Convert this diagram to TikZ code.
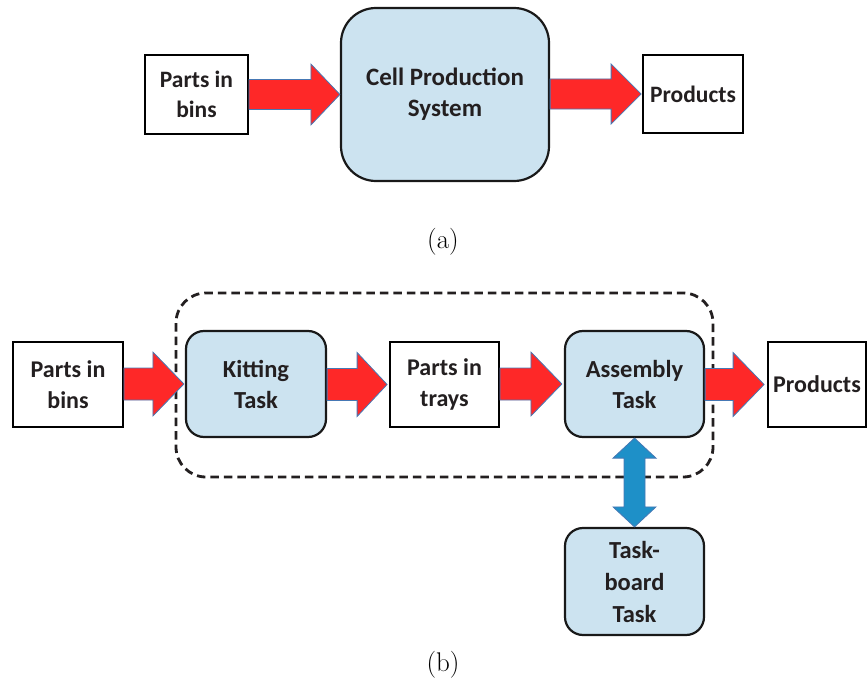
\documentclass[tikz,border=0pt]{standalone}
\usepackage{fontspec}
\newfontfamily\carl{Carlito}
\usetikzlibrary{calc}
\definecolor{arrred}{RGB}{254,40,40}
\definecolor{arredge}{RGB}{70,120,180}
\definecolor{boxblue}{RGB}{204,227,240}
\definecolor{arrblue}{RGB}{30,144,200}
\definecolor{txt}{RGB}{35,31,32}
\tikzset{
  plainbox/.style={draw=black, line width=1.8pt, fill=white, inner sep=0pt, align=center, text=txt,
    font=\carl\bfseries\fontsize{23.5}{30}\selectfont},
  taskbox/.style={draw=black!90, line width=2.2pt, fill=boxblue, inner sep=0pt, align=center, text=txt,
    font=\carl\bfseries\fontsize{24.5}{31}\selectfont},
  redarr/.style={fill=arrred, draw=arredge, line width=0.8pt, line join=miter},
  bluearr/.style={fill=arrblue, draw=arredge, line width=0.8pt},
  capt/.style={font=\fontsize{27}{30}\selectfont}
}
% #1 start, #2 tip, #3 head length, #4 half shaft, #5 half head
\newcommand\fatarrow[5]{%
  \path[redarr] let \p1=#1, \p2=#2 in
    (\x1,\y2-#4) -- (\x2-#3,\y2-#4) -- (\x2-#3,\y2-#5) -- (\x2,\y2)
    -- (\x2-#3,\y2+#5) -- (\x2-#3,\y2+#4) -- (\x1,\y2+#4) -- cycle;}
\begin{document}
\begin{tikzpicture}[x=1pt,y=-1pt]
\useasboundingbox (0,0) rectangle (868,685);
% (a)
\node[plainbox, minimum width=103pt, minimum height=79pt] (pa) at (196.5,94.5) {Parts in\\bins};
\node[taskbox, rounded corners=35pt, minimum width=208pt, minimum height=173pt,
  font=\carl\bfseries\fontsize{25}{31}\selectfont] (cell) at (445,94.5) {Cell Production\\System};
\node[plainbox, minimum width=100pt, minimum height=78pt] (pr) at (693,94) {Products};
\fatarrow{(pa.east)}{(cell.west)}{29pt}{15pt}{30.5pt}
\fatarrow{(cell.east)}{($(pr.west)+(-1,0)$)}{30pt}{15pt}{30pt}
\node[capt] (capa) at (443,242) {(a)};
% (b)
\draw[dash pattern=on 8.5pt off 5pt, line width=2.8pt, draw=txt, rounded corners=30pt]
  (176,293) rectangle (713,477);
\node[plainbox, minimum width=110pt, minimum height=85pt, font=\carl\bfseries\fontsize{24}{31}\selectfont] (pb) at (68,384.5) {Parts in\\bins};
\node[taskbox, rounded corners=18pt, minimum width=140pt, minimum height=106pt] (kit) at (256,384) {Kitting\\Task};
\node[plainbox, minimum width=109pt, minimum height=85pt, font=\carl\bfseries\fontsize{24}{31}\selectfont] (tray) at (444.5,384.5) {Parts in\\trays};
\node[taskbox, rounded corners=18pt, minimum width=139pt, minimum height=106pt] (asm) at (634.5,384) {Assembly\\Task};
\node[plainbox, minimum width=98pt, minimum height=85pt, font=\carl\bfseries\fontsize{24}{31}\selectfont] (prod) at (817,384.5) {Products};
\node[taskbox, rounded corners=18pt, minimum width=139pt, minimum height=107pt,
  font=\carl\bfseries\fontsize{24.5}{32}\selectfont] (tb) at (634.5,581.5) {Task-\\board\\Task};
\fatarrow{(pb.east)}{($(kit.west)+(-1,0)$)}{31pt}{16pt}{32pt}
\fatarrow{(kit.east)}{($(tray.west)+(-2,0)$)}{30pt}{16pt}{32pt}
\fatarrow{(tray.east)}{($(asm.west)+(-2,0)$)}{31pt}{16pt}{32pt}
\fatarrow{(asm.east)}{($(prod.west)+(-3,0)$)}{31pt}{16pt}{32pt}
% blue double arrow
\path[bluearr] let \p1=(asm.south), \p2=(tb.north) in
  (\x1,\y1) -- (\x1+21.5pt,\y1-20pt) -- (\x1+10.5pt,\y1-20pt) -- (\x1+10.5pt,\y2+20pt)
  -- (\x1+21.5pt,\y2+20pt) -- (\x1,\y2) -- (\x1-21.5pt,\y2+20pt) -- (\x1-10.5pt,\y2+20pt)
  -- (\x1-10.5pt,\y1-20pt) -- (\x1-21.5pt,\y1-20pt) -- cycle;
\node[capt] (capb) at (443,665) {(b)};
\end{tikzpicture}
\end{document}
